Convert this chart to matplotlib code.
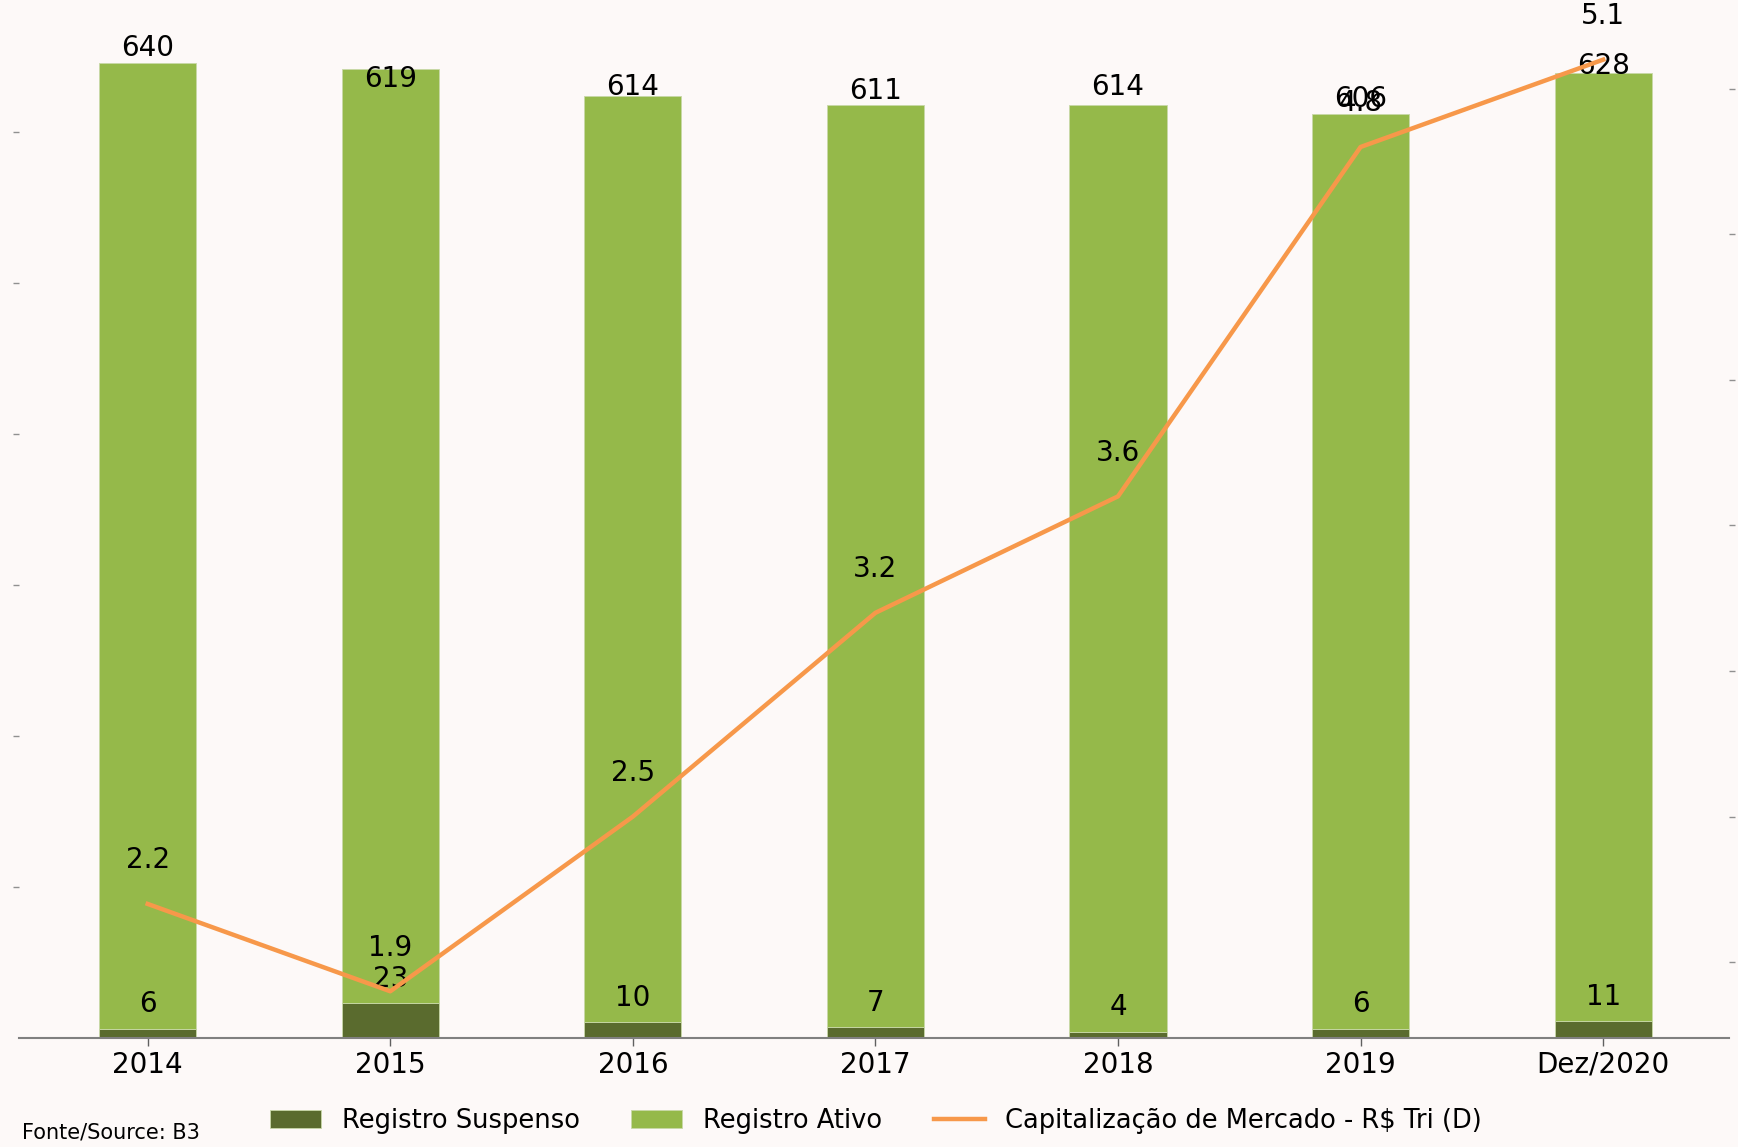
import matplotlib
matplotlib.use('Agg')
import matplotlib.pyplot as plt
import numpy as np

# data
anos = ['2014', '2015', '2016', '2017', '2018', '2019', 'Dez/2020']
suspenso = [6, 23, 10, 7, 4, 6, 11]
ativo = [640, 619, 614, 611, 614, 606, 628]
capitalizacao = [2.2, 1.9, 2.5, 3.2, 3.6, 4.8, 5.1]

bg = '#fdf9f8'
verde_escuro = '#5a6b2e'
verde_claro = '#95b94a'
laranja = '#f7984a'

plt.rcParams['font.family'] = 'DejaVu Sans'

fig = plt.figure(figsize=(17.38, 11.47), dpi=100, facecolor=bg)
ax = fig.add_axes([0.011, 0.0954, 0.984, 0.896])
ax.set_facecolor(bg)
ax2 = ax.twinx()

x = np.arange(len(anos))
ax.bar(x, suspenso, width=0.4, color=verde_escuro, edgecolor='#c8d8a8', linewidth=0.6,
       label='Registro Suspenso', zorder=2)
ax.bar(x, ativo, width=0.4, bottom=suspenso, color=verde_claro, edgecolor='#c8d8a8',
       linewidth=0.6, label='Registro Ativo', zorder=2)

for i in range(len(anos)):
    ax.text(x[i], ativo[i] + 16, str(ativo[i]), ha='center', va='center', fontsize=20, zorder=5)
    ax.text(x[i], suspenso[i] + 16, str(suspenso[i]), ha='center', va='center', fontsize=20, zorder=5)

ax2.plot(x, capitalizacao, color=laranja, linewidth=3.2,
         label='Capitalização de Mercado - R$ Tri (D)', zorder=3)
for i in range(len(anos)):
    ax2.text(x[i], capitalizacao[i] + 0.15, '%.1f' % capitalizacao[i], ha='center',
             va='center', fontsize=20, zorder=5)

ax.set_xlim(-0.53, 6.52)
ax.set_ylim(0, 681)
ax2.set_ylim(1.741, 5.271)

ax.set_yticks(np.arange(100, 700, 100))
ax.set_yticklabels([])
ax2.set_yticks(np.arange(2.0, 5.01, 0.5))
ax2.set_yticklabels([])

ax.set_xticks(x)
ax.set_xticklabels(anos, fontsize=20)

for a in (ax, ax2):
    for s in ['top', 'left', 'right', 'bottom']:
        a.spines[s].set_visible(False)
ax.spines['bottom'].set_visible(True)
ax.spines['bottom'].set_color('#808080')
ax.spines['bottom'].set_linewidth(1.5)
ax.tick_params(axis='x', length=6, color='#606060', width=1)
ax.tick_params(axis='y', length=4, color='#909090', width=1)
ax2.tick_params(axis='y', length=4, color='#909090', width=1)

h1, l1 = ax.get_legend_handles_labels()
h2, l2 = ax2.get_legend_handles_labels()
fig.legend(h1 + h2, l1 + l2, loc='center', bbox_to_anchor=(0.504, 0.0225), ncol=3,
           frameon=False, fontsize=18.5, handlelength=2.0, columnspacing=2.0)

fig.text(0.0125, 0.004, 'Fonte/Source: B3', fontsize=15, ha='left', va='bottom')

fig.savefig('out.png', dpi=100, facecolor=bg)
